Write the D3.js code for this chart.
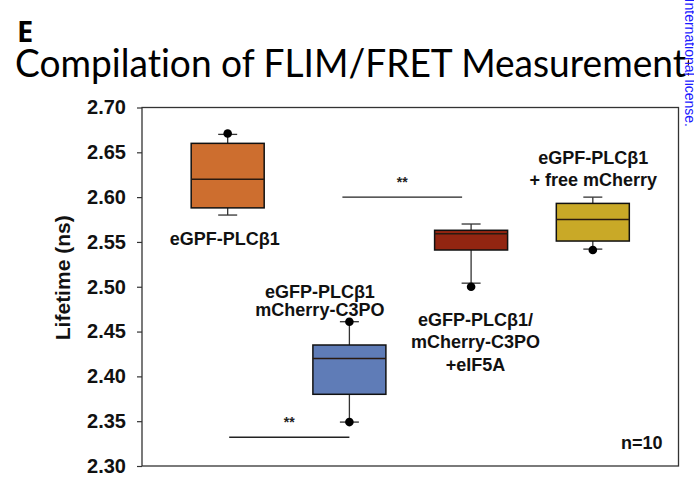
<!DOCTYPE html>
<html>
<head>
<meta charset="utf-8">
<script src="https://cdn.jsdelivr.net/npm/d3@7"></script>
<style>
  body { margin: 0; background: #fff; overflow: hidden; }
  text { font-family: "Liberation Sans", Arial, sans-serif; }
</style>
</head>
<body>
<div id="chart"></div>
<script>

var categories = ["eGPF-PLCβ1", "eGFP-PLCβ1 mCherry-C3PO", "eGFP-PLCβ1/mCherry-C3PO +eIF5A", "eGPF-PLCβ1 + free mCherry"];
var q1 = [2.588, 2.380, 2.541, 2.551];
var medians = [2.620, 2.420, 2.559, 2.575];
var q3 = [2.660, 2.435, 2.563, 2.593];
var whiskerLow = [2.580, 2.349, 2.504, 2.542];
var whiskerHigh = [2.670, 2.461, 2.570, 2.600];
var outliers = [[2.671], [2.461, 2.349], [2.500], [2.541]];
var fills = ["#CD6E2F", "#5F7CB7", "#922511", "#C9A927"];
var labelLines = [["eGPF-PLCβ1"], ["eGFP-PLCβ1", "mCherry-C3PO"], ["eGFP-PLCβ1/", "mCherry-C3PO", "+eIF5A"], ["eGPF-PLCβ1", "+ free mCherry"]];
var yTicks = [2.30, 2.35, 2.40, 2.45, 2.50, 2.55, 2.60, 2.65, 2.70];
var sigPairs = [[0, 1, 2.332], [1, 2, 2.600]];

var W = 694, H = 478;
var margin = {top: 107.5, right: 15.5, bottom: 12, left: 142};
var width = W - margin.left - margin.right,
    height = H - margin.top - margin.bottom;

var svg = d3.select("#chart").append("svg")
    .attr("width", W)
    .attr("height", H);

// title + panel letter
svg.append("text")
    .attr("x", 17).attr("y", 42)
    .style("font-family", "'Open Sans', sans-serif")
    .style("font-weight", "bold")
    .style("font-size", "29px")
    .text("E");

var title = svg.append("text")
    .attr("x", 15).attr("y", 77)
    .style("font-family", "Lato, 'Open Sans', sans-serif")
    .style("font-size", "38px")
    .style("font-variant-ligatures", "none")
    .text("Compilation of FLIM/FRET Measurements");
// stretch so that "Measurement" ends near the right edge, last "s" runs off the page
var tn = title.node();
var fullLen = tn.getComputedTextLength();
var sLen = tn.getSubStringLength(tn.getNumberOfChars() - 1, 1);
var k = 671 / (fullLen - sLen);
title.attr("textLength", fullLen * k).attr("lengthAdjust", "spacingAndGlyphs");

var g = svg.append("g")
    .attr("transform", "translate(" + margin.left + "," + margin.top + ")");

var x = d3.scalePoint()
    .domain(d3.range(categories.length))
    .range([0, width])
    .padding(0.704);

var y = d3.scaleLinear()
    .domain([2.30, 2.70])
    .range([height, 0]);

// frame
g.append("rect")
    .attr("width", width).attr("height", height)
    .attr("fill", "none")
    .attr("stroke", "#333")
    .attr("stroke-width", 1.3);

var yAxis = g.append("g")
    .call(d3.axisLeft(y).tickValues(yTicks).tickFormat(d3.format(".2f")).tickSize(5).tickPadding(11));
yAxis.select(".domain").remove();
yAxis.selectAll("line").attr("stroke", "#333").attr("stroke-width", 1.2);
yAxis.selectAll("text")
    .style("font-family", "'Liberation Sans', Arial, sans-serif")
    .style("font-size", "20px")
    .style("font-weight", "bold")
    .attr("fill", "#111");

svg.append("text")
    .attr("transform", "translate(70," + (margin.top + y(2.51)) + ") rotate(-90)")
    .attr("text-anchor", "middle")
    .style("font-size", "21px")
    .style("font-weight", "bold")
    .attr("fill", "#111")
    .text("Lifetime (ns)");

var boxW = 73, capW = 19;

var boxes = g.selectAll(".box")
    .data(categories)
    .enter()
    .append("g")
    .attr("class", "box")
    .attr("transform", function(d, i) { return "translate(" + x(i) + ",0)"; });

boxes.append("line")
    .attr("x1", 0).attr("x2", 0)
    .attr("y1", function(d, i) { return y(whiskerHigh[i]); })
    .attr("y2", function(d, i) { return y(q3[i]); })
    .attr("stroke", "#333").attr("stroke-width", 1.3);
boxes.append("line")
    .attr("x1", 0).attr("x2", 0)
    .attr("y1", function(d, i) { return y(q1[i]); })
    .attr("y2", function(d, i) { return y(whiskerLow[i]); })
    .attr("stroke", "#333").attr("stroke-width", 1.3);
boxes.append("line")
    .attr("x1", -capW / 2).attr("x2", capW / 2)
    .attr("y1", function(d, i) { return y(whiskerHigh[i]); })
    .attr("y2", function(d, i) { return y(whiskerHigh[i]); })
    .attr("stroke", "#333").attr("stroke-width", 1.3);
boxes.append("line")
    .attr("x1", -capW / 2).attr("x2", capW / 2)
    .attr("y1", function(d, i) { return y(whiskerLow[i]); })
    .attr("y2", function(d, i) { return y(whiskerLow[i]); })
    .attr("stroke", "#333").attr("stroke-width", 1.3);

boxes.append("rect")
    .attr("x", -boxW / 2)
    .attr("width", boxW)
    .attr("y", function(d, i) { return y(q3[i]); })
    .attr("height", function(d, i) { return y(q1[i]) - y(q3[i]); })
    .attr("fill", function(d, i) { return fills[i]; })
    .attr("stroke", "#111")
    .attr("stroke-width", 1.5);

boxes.append("line")
    .attr("x1", -boxW / 2).attr("x2", boxW / 2)
    .attr("y1", function(d, i) { return y(medians[i]); })
    .attr("y2", function(d, i) { return y(medians[i]); })
    .attr("stroke", "#2a1a10")
    .attr("stroke-width", 1.5);

boxes.selectAll(".dot")
    .data(function(d, i) { return outliers[i]; })
    .enter()
    .append("circle")
    .attr("cx", 0)
    .attr("cy", function(v) { return y(v); })
    .attr("r", 4.3)
    .attr("fill", "#000");

// category labels (offsets from the box centre, baseline in px)
var labelPos = [
    {dx: -3, y0: 244.5, lh: 0},
    {dx: -29.5, y0: 298, lh: 18},
    {dx: 4.5, y0: 326, lh: 22.3},
    {dx: 0.5, y0: 164, lh: 21.5}
];

labelLines.forEach(function(lines, i) {
    var t = svg.append("text")
        .attr("text-anchor", "middle")
        .style("font-size", "18px")
        .style("font-weight", "bold")
        .attr("fill", "#111");
    lines.forEach(function(s, j) {
        t.append("tspan")
            .attr("x", margin.left + x(i) + labelPos[i].dx)
            .attr("y", labelPos[i].y0 + j * labelPos[i].lh)
            .text(s);
    });
});

// significance bars
var sigShift = [[1.5, 0], [-7, -9]];
sigPairs.forEach(function(p, j) {
    var x1 = x(p[0]) + sigShift[j][0], x2 = x(p[1]) + sigShift[j][1];
    g.append("line")
        .attr("x1", x1).attr("x2", x2)
        .attr("y1", y(p[2])).attr("y2", y(p[2]))
        .attr("stroke", "#222").attr("stroke-width", 1.4);
    g.append("text")
        .attr("x", (x1 + x2) / 2)
        .attr("y", y(p[2]) - 10)
        .attr("text-anchor", "middle")
        .style("font-size", "14px")
        .style("font-weight", "bold")
        .attr("fill", "#222")
        .text("**");
});

g.append("text")
    .attr("x", width - 16)
    .attr("y", height - 17.5)
    .attr("text-anchor", "end")
    .style("font-size", "18px")
    .style("font-weight", "bold")
    .attr("fill", "#111")
    .text("n=10");

// page edge strip with the clipped watermark
svg.append("rect")
    .attr("x", 689).attr("y", 0)
    .attr("width", 5).attr("height", 100)
    .attr("fill", "#fff");

svg.append("text")
    .attr("transform", "translate(685,127) rotate(90)")
    .attr("text-anchor", "end")
    .style("font-size", "14px")
    .attr("fill", "#1a1aff")
    .text("It is made available under a CC-BY 4.0 International license.");

</script>
</body>
</html>
